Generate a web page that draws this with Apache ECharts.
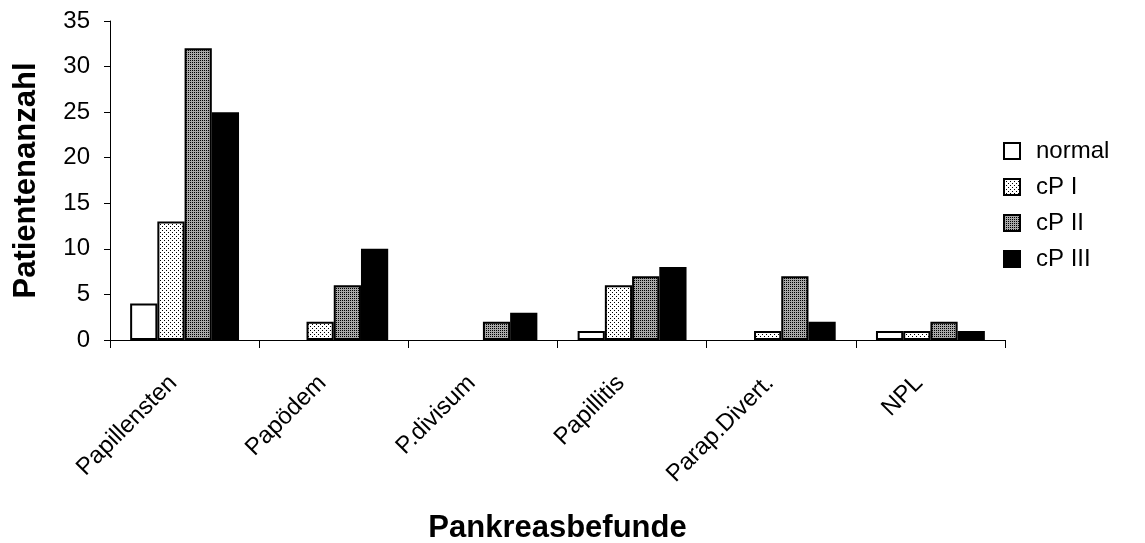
<!DOCTYPE html>
<html>
<head>
<meta charset="utf-8">
<script src="https://cdn.jsdelivr.net/npm/echarts@6/dist/echarts.min.js"></script>
<style>
  html, body { margin: 0; padding: 0; background: #fff; }
  #chart { width: 1145px; height: 543px; }
</style>
</head>
<body>
<div id="chart"></div>
<script>
// Findings per pancreas stage
const categories = ['Papillensten', 'Papödem', 'P.divisum', 'Papillitis', 'Parap.Divert.', 'NPL'];
const seriesNames = ['normal', 'cP I', 'cP II', 'cP III'];
const normalValues = [4, 0, 0, 1, 0, 1];
const cp1Values = [13, 2, 0, 6, 1, 1];
const cp2Values = [32, 6, 2, 7, 7, 2];
const cp3Values = [25, 10, 3, 8, 2, 1];
const yTicks = [0, 5, 10, 15, 20, 25, 30, 35];

// Dotted fill patterns drawn onto small tiles
function makeTile(size, bg, dots) {
  const c = document.createElement('canvas');
  c.width = size; c.height = size;
  const ctx = c.getContext('2d');
  ctx.fillStyle = bg;
  ctx.fillRect(0, 0, size, size);
  ctx.fillStyle = '#000';
  dots.forEach(d => ctx.fillRect(d[0], d[1], 1, 1));
  return c;
}
const sparseDots = makeTile(4, '#ffffff', [[0, 0], [2, 2]]);
const denseDots = makeTile(2, '#a8a8a8', [[0, 0]]);

const fills = [
  '#ffffff',
  { image: sparseDots, repeat: 'repeat' },
  { image: denseDots, repeat: 'repeat' },
  '#000000'
];
const allValues = [normalValues, cp1Values, cp2Values, cp3Values];

// zero counts get no outline, so nothing is drawn for them
function barData(values) {
  return values.map(v => (v === 0 ? { value: 0, itemStyle: { borderWidth: 0 } } : v));
}

const chart = echarts.init(document.getElementById('chart'), null, { renderer: 'canvas' });
const font = 'Liberation Sans, Arial, sans-serif';

chart.setOption({
  animation: false,
  backgroundColor: '#ffffff',
  textStyle: { fontFamily: font },
  grid: { left: 110, right: 140, top: 21, bottom: 203, containLabel: false, outerBoundsMode: 'none' },
  legend: {
    orient: 'vertical',
    left: 998,
    top: 134,
    icon: 'rect',
    itemWidth: 16,
    itemHeight: 16,
    itemGap: 12,
    data: seriesNames,
    textStyle: { fontFamily: font, fontSize: 24, color: '#000', padding: [0, 0, 0, 11] },
    itemStyle: { borderColor: '#000', borderWidth: 2 }
  },
  xAxis: {
    type: 'category',
    data: categories,
    name: 'Pankreasbefunde',
    nameLocation: 'middle',
    nameGap: 173,
    nameTextStyle: { fontFamily: font, fontSize: 31, fontWeight: 'bold', color: '#000' },
    axisLine: { lineStyle: { color: '#000', width: 1 } },
    axisTick: { show: true, length: 8, alignWithLabel: false, lineStyle: { color: '#000' } },
    axisLabel: {
      rotate: 45, fontFamily: font, fontSize: 24, color: '#000',
      margin: 28, padding: [0, 16, 0, 0], interval: 0
    }
  },
  yAxis: {
    type: 'value',
    min: 0,
    max: 35,
    interval: 5,
    name: 'Patientenanzahl',
    nameLocation: 'middle',
    nameGap: 68,
    nameTextStyle: { fontFamily: font, fontSize: 31, fontWeight: 'bold', color: '#000' },
    axisLine: { show: true, lineStyle: { color: '#000', width: 1 } },
    axisTick: { show: true, length: 6, lineStyle: { color: '#000' } },
    axisLabel: {
      fontFamily: font, fontSize: 24, color: '#000', margin: 20,
      formatter: v => (yTicks.includes(v) ? String(v) : '')
    },
    splitLine: { show: false }
  },
  series: seriesNames.map((name, i) => ({
    name: name,
    type: 'bar',
    data: barData(allValues[i]),
    barGap: '0%',
    barCategoryGap: '27%',
    itemStyle: { color: fills[i], borderColor: '#000', borderWidth: 2 }
  }))
});
</script>
</body>
</html>
